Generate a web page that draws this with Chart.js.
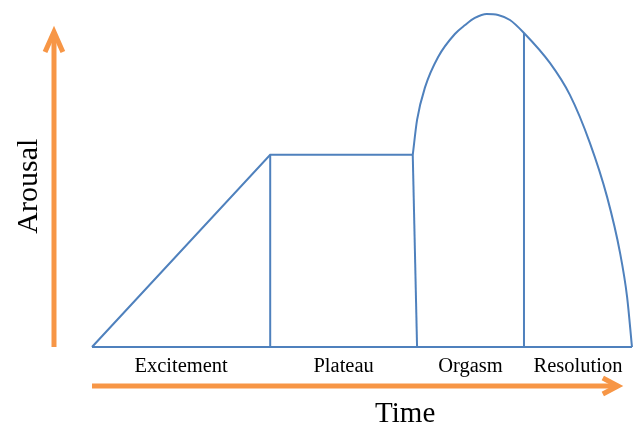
<!DOCTYPE html>
<html>
<head>
<meta charset="utf-8">
<script src="https://cdn.jsdelivr.net/npm/chart.js@4"></script>
<style>
  html, body { margin: 0; padding: 0; background: #fff; }
  #wrap { width: 635px; height: 424px; position: relative; }
</style>
</head>
<body>
<div id="wrap"><canvas id="c"></canvas></div>
<script>
// Sexual response cycle — arousal over time (arbitrary units, 0–100)

const phases = ['Excitement', 'Plateau', 'Orgasm', 'Resolution'];
// phase boundaries on the time axis
const phaseStart = [0, 33, 60.2, 80];
const phaseEnd   = [33, 60.2, 80, 100];

// excitement ramp + plateau
const rampTime    = [0, 33, 59.4];
const rampArousal = [0, 57.7, 57.7];

// orgasm peak + resolution fall
const curveTime    = [59.4, 60.2, 61.7, 64.1, 67.2, 69.1, 70.9, 73.1, 75.2, 77.4, 80.0, 84.8, 88.5, 92.2, 95.4, 97.8, 99.1, 100];
const curveArousal = [57.7, 68.2, 78.1, 87.1, 94.0, 96.7, 98.8, 100, 99.7, 98.2, 94.3, 85.3, 75.7, 61.3, 45.0, 28.2, 15.0, 0];

// vertical phase dividers: [time bottom, time top, arousal top]
const dividerBottom = [33, 60.2, 80];
const dividerTop    = [33, 59.4, 80];
const dividerHeight = [57.7, 57.7, 94.3];

const BLUE = '#4f81bd';
const ORANGE = '#f79646';

const pts = (xs, ys) => xs.map((x, i) => ({ x: x, y: ys[i] }));

function blueLine(data, extra) {
    return Object.assign({ data: data, borderColor: BLUE, borderWidth: 2, pointRadius: 0, showLine: true, fill: false, clip: false }, extra || {});
}
function orangeLine(data) {
    return { data: data, borderColor: ORANGE, borderWidth: 5, pointRadius: 0, showLine: true, fill: false, clip: false, borderCapStyle: 'butt', borderJoinStyle: 'miter' };
}

const datasets = [
    blueLine(pts([0, 100], [0, 0])),
    blueLine(pts(rampTime, rampArousal)),
    blueLine(pts(curveTime, curveArousal), { cubicInterpolationMode: 'monotone' })
];
dividerBottom.forEach((t, i) => {
    datasets.push(blueLine([{ x: t, y: 0 }, { x: dividerTop[i], y: dividerHeight[i] }]));
});

// axis arrows (drawn in data units)
datasets.push(orangeLine([{ x: -7.04, y: 0 }, { x: -7.04, y: 93.5 }]));
datasets.push(orangeLine([{ x: -8.7, y: 88.6 }, { x: -7.04, y: 94.6 }, { x: -5.4, y: 88.6 }]));
datasets.push(orangeLine([{ x: 0, y: -11.7 }, { x: 96.8, y: -11.7 }]));
datasets.push(orangeLine([{ x: 94.6, y: -9.3 }, { x: 97.4, y: -11.7 }, { x: 94.6, y: -14.1 }]));

const labelsPlugin = {
    id: 'labels',
    afterDatasetsDraw(chart) {
        const ctx = chart.ctx, xs = chart.scales.x, ys = chart.scales.y;
        ctx.save();
        ctx.fillStyle = '#000';
        ctx.textAlign = 'center';
        ctx.textBaseline = 'alphabetic';
        ctx.font = '20.5px "Liberation Serif", "Times New Roman", serif';
        phases.forEach((p, i) => {
            const mid = (phaseStart[i] + phaseEnd[i]) / 2;
            ctx.fillText(p, xs.getPixelForValue(mid), ys.getPixelForValue(-7.5));
        });
        ctx.font = '29px "Liberation Serif", "Times New Roman", serif';
        ctx.fillText('Time', xs.getPixelForValue(58), ys.getPixelForValue(-22.5));
        ctx.translate(xs.getPixelForValue(-10.2), ys.getPixelForValue(48.3));
        ctx.rotate(-Math.PI / 2);
        ctx.font = '30px "Liberation Serif", "Times New Roman", serif';
        ctx.fillText('Arousal', 0, 0);
        ctx.restore();
    }
};

new Chart(document.getElementById('c').getContext('2d'), {
    type: 'scatter',
    data: { datasets: datasets },
    options: {
        responsive: true,
        maintainAspectRatio: false,
        animation: false,
        layout: { padding: 0 },
        plugins: { legend: { display: false }, tooltip: { enabled: false } },
        scales: {
            x: { type: 'linear', display: false, min: -17.04, max: 100.56 },
            y: { type: 'linear', display: false, min: -23.13, max: 104.2 }
        }
    },
    plugins: [labelsPlugin]
});
</script>
</body>
</html>
